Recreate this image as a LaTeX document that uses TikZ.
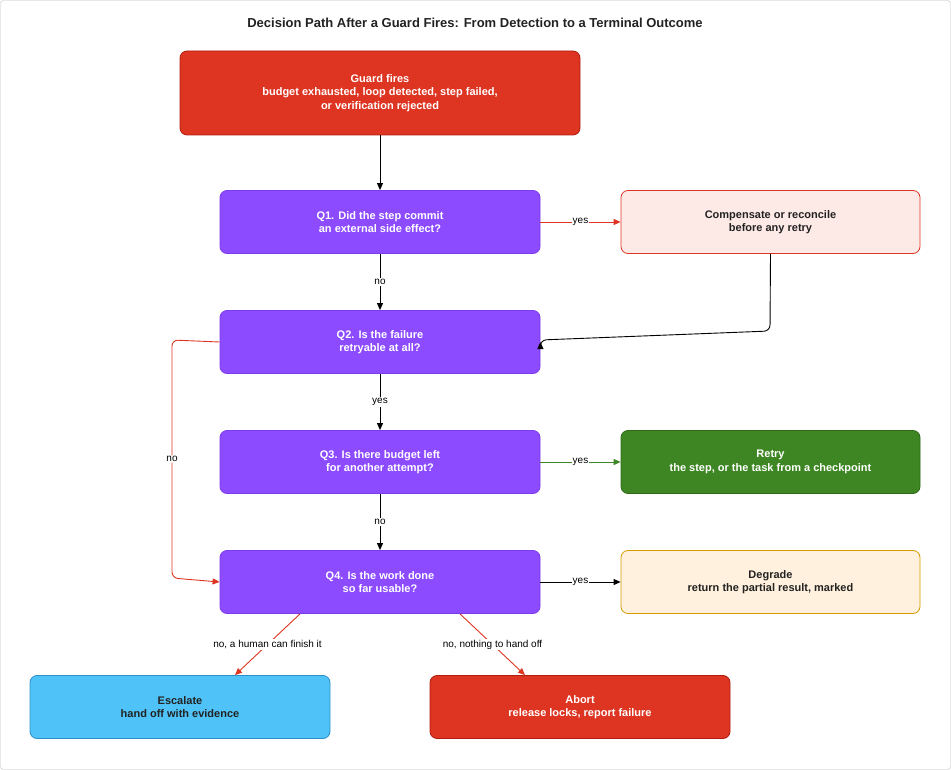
\documentclass[tikz,border=0pt]{standalone}
\usepackage{fontspec}
\setmainfont{Liberation Sans}
\usetikzlibrary{arrows.meta}
\definecolor{rd}{HTML}{DD3522}
\definecolor{rdb}{HTML}{B01E10}
\definecolor{pu}{HTML}{8C4BFF}
\definecolor{pub}{HTML}{7A3CE8}
\definecolor{pk}{HTML}{FDE9E6}
\definecolor{gr}{HTML}{3E8623}
\definecolor{grb}{HTML}{2E6A18}
\definecolor{og}{HTML}{FFF1DD}
\definecolor{ogb}{HTML}{D79B00}
\definecolor{bl}{HTML}{4FC3F7}
\definecolor{blb}{HTML}{2F8FC8}
\definecolor{tx}{HTML}{222222}
\begin{document}
\begin{tikzpicture}[x=1pt,y=-1pt,
 box/.style={draw,rounded corners=7pt,line width=0.8pt,align=center,font=\fontsize{11}{13.5}\selectfont\bfseries,inner sep=0pt},
 wbox/.style={box,text=white},
 dbox/.style={box,text=tx},
 arr/.style={-{Triangle[length=7pt,width=6pt]},line width=0.9pt},
 lab/.style={fill=white,font=\fontsize{10}{12}\selectfont,text=black,inner sep=1pt}]
\useasboundingbox (0,0) rectangle (951,770);
\draw[gray!50,rounded corners=3pt] (0.5,0.5) rectangle (950.5,769.5);
\node[font=\fontsize{13}{15}\selectfont\bfseries,text=tx] (title) at (475,23) {Decision Path After a Guard Fires: From Detection to a Terminal Outcome};
\node[wbox,fill=rd,draw=rdb,minimum width=400pt,minimum height=84pt] (g) at (380,93) {Guard fires\\budget exhausted, loop detected, step failed,\\or verification rejected};
\node[wbox,fill=pu,draw=pub,minimum width=320pt,minimum height=63pt] (q1) at (380,222) {Q1. Did the step commit\\an external side effect?};
\node[dbox,fill=pk,draw=rd,minimum width=299pt,minimum height=63pt] (c) at (770.5,222) {Compensate or reconcile\\before any retry};
\node[wbox,fill=pu,draw=pub,minimum width=320pt,minimum height=63pt] (q2) at (380,342) {Q2. Is the failure\\retryable at all?};
\node[wbox,fill=pu,draw=pub,minimum width=320pt,minimum height=63pt] (q3) at (380,462) {Q3. Is there budget left\\for another attempt?};
\node[wbox,fill=gr,draw=grb,minimum width=299pt,minimum height=63pt] (r) at (770.5,462) {Retry\\the step, or the task from a checkpoint};
\node[wbox,fill=pu,draw=pub,minimum width=320pt,minimum height=63pt] (q4) at (380,582) {Q4. Is the work done\\so far usable?};
\node[dbox,fill=og,draw=ogb,minimum width=299pt,minimum height=63pt] (d) at (770.5,582) {Degrade\\return the partial result, marked};
\node[dbox,fill=bl,draw=blb,minimum width=300pt,minimum height=63pt] (e) at (180,707) {Escalate\\hand off with evidence};
\node[wbox,fill=rd,draw=rdb,minimum width=300pt,minimum height=63pt] (a) at (580,707) {Abort\\release locks, report failure};

\draw[arr] (g) -- (q1);
\draw[arr,rd] (q1) -- node[lab]{yes} (c);
\draw[arr] (q1) -- node[lab]{no} (q2);
\draw[arr,rounded corners=6pt] (c.south) -- (770,331) -- (q2.east |- 0,340) -- (q2.east);
\draw[arr] (q2) -- node[lab]{yes} (q3);
\draw[arr,rd,rounded corners=6pt] (q2.west) -- (172,340) -- node[lab]{no} (172,578) -- (q4.west);
\draw[arr,gr] (q3) -- node[lab]{yes} (r);
\draw[arr] (q3) -- node[lab]{no} (q4);
\draw[arr] (q4) -- node[lab]{yes} (d);
\draw[arr,rd] (q4.south -| 300,0) -- node[lab,pos=0.5]{no, a human can finish it} (e.north -| 235,0);
\draw[arr,rd] (q4.south -| 460,0) -- node[lab,pos=0.5]{no, nothing to hand off} (a.north -| 525,0);
\end{tikzpicture}
\end{document}
